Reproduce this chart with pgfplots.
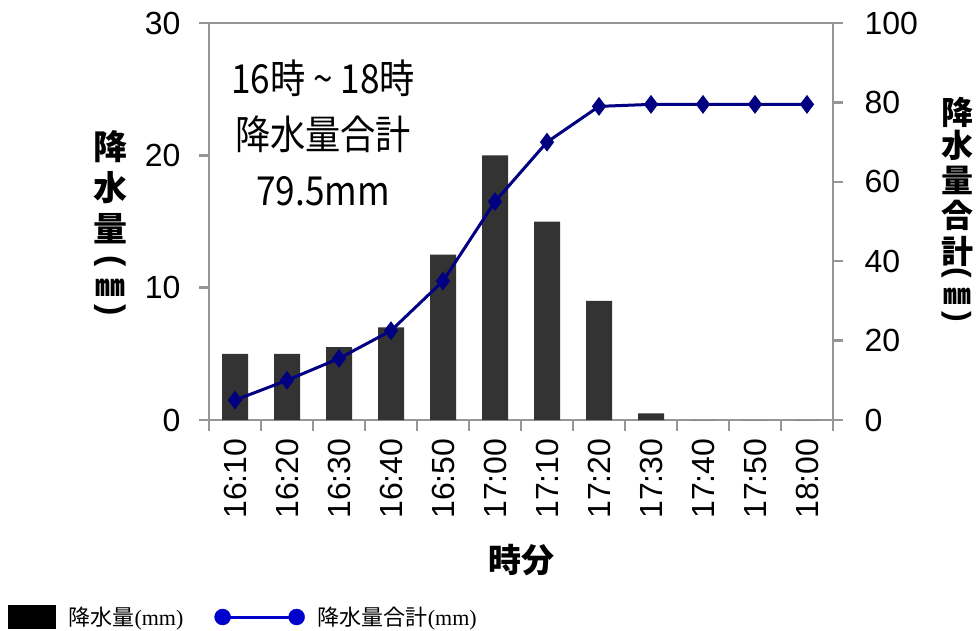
\documentclass[border=0pt]{standalone}
\usepackage{fontspec}
\setmainfont{Liberation Sans}
\newfontfamily\cjk{Noto Sans CJK JP}
\newfontfamily\serif{Liberation Serif}
\usepackage{pgfplots}
\pgfplotsset{compat=1.18}
\definecolor{axgray}{RGB}{150,150,150}
\definecolor{bargray}{RGB}{51,51,51}
\definecolor{navyline}{RGB}{0,0,128}
\definecolor{legblue}{RGB}{0,0,204}
\pgfplotstableread{
x val cum
0 5 5
1 5 10
2 5.5 15.5
3 7 22.5
4 12.5 35
5 20 55
6 15 70
7 9 79
8 0.5 79.5
9 0 79.5
10 0 79.5
11 0 79.5
}\datatable
\begin{document}
\begin{tikzpicture}
\useasboundingbox (0pt,0pt) rectangle (978pt,630pt);
\pgfplotsset{
  common/.style={
    at={(209pt,210pt)}, anchor=south west,
    scale only axis, width=624pt, height=397pt,
    xmin=-0.5, xmax=11.5,
    axis line style={draw=axgray, line width=2.5pt},
    tick align=outside,
    major tick length=10pt, minor tick length=11pt,
    ticklabel style={font=\fontsize{32}{32}\selectfont},
    /pgf/number format/assume math mode=true,
  }
}
\begin{axis}[common,
  ymin=0, ymax=30, ytick={0,10,20,30},
  ytick pos=left, xtick pos=bottom,
  ytick style={draw=axgray, line width=2.5pt},
  xtick={0,...,11},
  xticklabels={16:10,16:20,16:30,16:40,16:50,17:00,17:10,17:20,17:30,17:40,17:50,18:00},
  xtick style={draw=none},
  minor xtick={-0.5,0.5,...,11.5},
  minor x tick style={draw=axgray, line width=2.5pt},
  xticklabel style={rotate=90, anchor=east},
  xticklabel shift=5pt,
  yticklabel shift=15pt,
]
\addplot[ybar, bar width=26pt, fill=bargray, draw=none] table[x=x, y=val] {\datatable};
\end{axis}
\begin{axis}[common,
  ymin=0, ymax=100, ytick={0,20,...,100},
  axis x line=none, axis y line*=right,
  ytick style={draw=axgray, line width=2.5pt},
  yticklabel shift=18pt,
  legend style={at={(-0.327,-0.496)}, anchor=west, draw=none, fill=none,
    font=\fontsize{22}{22}\selectfont, legend columns=2,
    /tikz/every odd column/.append style={column sep=11pt},
    /tikz/every even column/.append style={column sep=29pt}},
]
\addplot[navyline, line width=3pt, mark=diamond*, mark size=7pt, forget plot] table[x=x, y=cum] {\datatable};
\addlegendimage{legend image code/.code={\fill[black] (0pt,-11pt) rectangle (47pt,12pt);}}
\addlegendentry{{\cjk 降水量}{\serif (mm)}}
\addlegendimage{legend image code/.code={\draw[legblue, line width=3pt] (0pt,0pt) -- (74pt,0pt); \fill[legblue] (0pt,0pt) circle (8pt); \fill[legblue] (74pt,0pt) circle (8pt);}}
\addlegendentry{{\cjk 降水量合計}{\serif (mm)}}
\end{axis}
% left axis title (vertical)
\begin{scope}[every node/.style={inner sep=0pt, font=\cjk\bfseries\fontsize{34}{34}\selectfont}]
\node at (110pt,483pt) {降};
\node at (110pt,442pt) {水};
\node at (110pt,401pt) {量};
\node[rotate=-90, font=\bfseries\fontsize{34}{34}\selectfont] at (110pt,369pt) {(};
\node[font=\cjk\bfseries\fontsize{30}{30}\selectfont] at (110pt,342pt) {㎜};
\node[rotate=-90, font=\bfseries\fontsize{34}{34}\selectfont] at (110pt,320pt) {)};
\end{scope}
% right axis title (vertical)
\begin{scope}[every node/.style={inner sep=0pt, font=\cjk\bfseries\fontsize{32}{32}\selectfont}]
\node at (957pt,518pt) {降};
\node at (957pt,485pt) {水};
\node at (957pt,450pt) {量};
\node at (957pt,415pt) {合};
\node at (957pt,379pt) {計};
\node[rotate=-90, font=\bfseries\fontsize{32}{32}\selectfont] at (957pt,357pt) {(};
\node[font=\cjk\bfseries\fontsize{28}{28}\selectfont] at (957pt,334pt) {㎜};
\node[rotate=-90, font=\bfseries\fontsize{32}{32}\selectfont] at (957pt,313pt) {)};
\end{scope}
\node[font=\cjk\bfseries\fontsize{33}{33}\selectfont] at (521pt,70pt) {時分};
\node[font=\cjk\fontsize{40}{56}\selectfont, align=center, xscale=0.88] at (323pt,497pt) {16時 \textasciitilde{} 18時\\降水量合計\\79.5mm};
\end{tikzpicture}
\end{document}
